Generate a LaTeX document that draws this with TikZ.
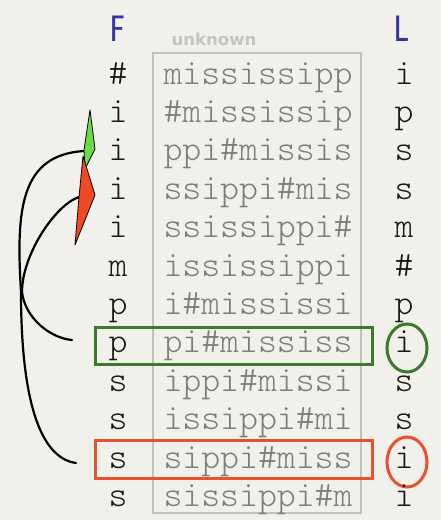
\documentclass[tikz,border=0pt]{standalone}
\usepackage{fontspec}
\newfontfamily\flfont{Fira Sans}
\newfontfamily\unkfont{DejaVu Sans}
\newfontfamily\lightmono{lmmonolt10-regular.otf}
\definecolor{bg}{RGB}{242,240,235}
\definecolor{boxgray}{RGB}{192,192,190}
\definecolor{txtgray}{RGB}{125,125,125}
\definecolor{txtdark}{RGB}{25,25,25}
\definecolor{unkgray}{RGB}{196,196,194}
\definecolor{hdrblue}{RGB}{52,52,168}
\definecolor{gline}{RGB}{58,122,44}
\definecolor{rline}{RGB}{234,80,45}
\definecolor{gfill}{RGB}{105,220,70}
\definecolor{rfill}{RGB}{240,74,36}
\begin{document}
\begin{tikzpicture}[x=1pt,y=-1pt,
  mono/.style={font=\fontsize{36}{40}\selectfont\lightmono, anchor=base, inner sep=0pt},
  coltxt/.style={mono, text=txtdark},
  rottxt/.style={mono, text=txtgray},
  hdr/.style={font=\flfont\fontsize{37}{40}\selectfont, text=hdrblue, anchor=base, inner sep=0pt, xscale=0.85},
  curve/.style={draw=black, line width=2.2pt, line cap=round},
  grect/.style={draw=gline, line width=3pt},
  rrect/.style={draw=rline, line width=3pt},
  ahead/.style={draw=black, line width=0.8pt, line join=round}]
\useasboundingbox (0,0) rectangle (441,520);
\fill[bg] (0,0) rectangle (441,520);
% gray box and header
\draw[boxgray, line width=2pt] (153,53) rectangle (361,513);
\node[font=\unkfont\bfseries\fontsize{16.5}{18}\selectfont, text=unkgray, anchor=base, inner sep=0pt] (unk) at (214,45) {unknown};
\node[hdr] (F) at (117,41) {F};
\node[hdr] (L) at (401,41) {L};
% highlight boxes and circles
\draw[grect] (95,327) rectangle (372,364);
\draw[rrect] (95,440) rectangle (372,478);
\draw[grect] (407,348) ellipse [x radius=20pt, y radius=24pt];
\draw[rrect] (407,462) ellipse [x radius=20pt, y radius=25pt];
% rows
\foreach \k/\f/\t/\l in {1/\#/mississipp/i, 2/i/\#mississip/p, 3/i/ppi\#missis/s,
  4/i/ssippi\#mis/s, 5/i/ssissippi\#/m, 6/m/ississippi/\#, 7/p/i\#mississi/p,
  8/p/pi\#mississ/i, 9/s/ippi\#missi/s, 10/s/issippi\#mi/s, 11/s/sippi\#miss/i,
  12/s/sissippi\#m/i}{
  \pgfmathsetmacro\yy{84+38.4*(\k-1)}
  \node[coltxt] (f\k) at (118,\yy) {\f};
  \node[rottxt] (t\k) at (258,\yy) {\t};
  \node[coltxt] (l\k) at (404,\yy) {\l};
}
% connector end points
\coordinate (gfrom) at (72,340);
\coordinate (rfrom) at (76,463);
\coordinate (gto) at (84,151);
\coordinate (rto) at (79,197);
% curves
\draw[curve] (gfrom) .. controls (50,338) and (25,318) .. (22,292)
  .. controls (22,255) and (55,205) .. (rto);
\draw[curve] (rfrom) .. controls (40,458) and (21,400) .. (21,292)
  .. controls (16,210) and (20,155) .. (gto);
% arrowheads
\filldraw[ahead, fill=gfill] (90,110) -- (95,149) -- (85,169) -- (84,150) -- cycle;
\filldraw[ahead, fill=rfill] (83,156) -- (95,195) -- (75,245) -- (79,197) -- cycle;
\end{tikzpicture}
\end{document}
